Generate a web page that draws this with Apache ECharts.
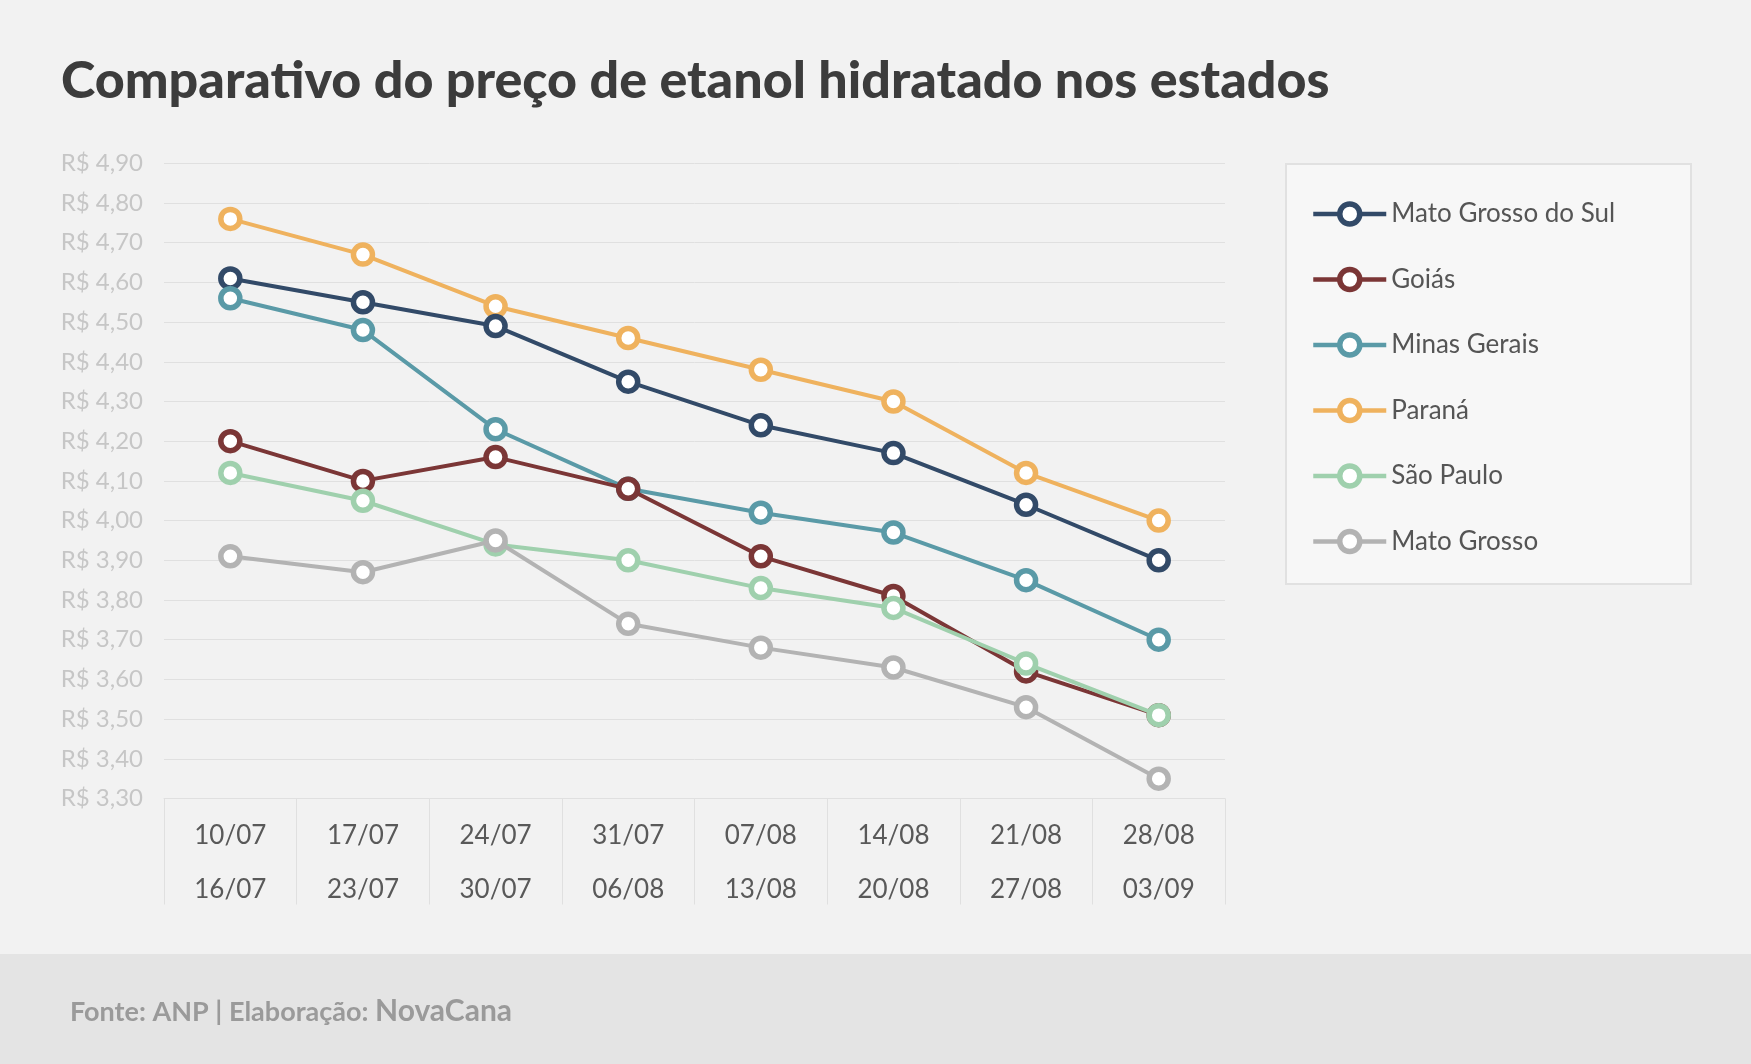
<!DOCTYPE html>
<html>
<head>
<meta charset="utf-8">
<script src="https://cdn.jsdelivr.net/npm/echarts@6/dist/echarts.min.js"></script>
<style>
  html, body { margin: 0; padding: 0; background: #f2f2f2; }
  #echarts-line { width: 1751px; height: 1064px; }
</style>
</head>
<body>
<div id="echarts-line"></div>
<script>
// semanas (início \n fim)
var categories = ['10/07\n16/07', '17/07\n23/07', '24/07\n30/07', '31/07\n06/08',
                  '07/08\n13/08', '14/08\n20/08', '21/08\n27/08', '28/08\n03/09'];

// preço médio do etanol hidratado (R$/litro)
var matoGrossoDoSul = [4.61, 4.55, 4.49, 4.35, 4.24, 4.17, 4.04, 3.90];
var goias           = [4.20, 4.10, 4.16, 4.08, 3.91, 3.81, 3.62, 3.51];
var minasGerais     = [4.56, 4.48, 4.23, 4.08, 4.02, 3.97, 3.85, 3.70];
var parana          = [4.76, 4.67, 4.54, 4.46, 4.38, 4.30, 4.12, 4.00];
var saoPaulo        = [4.12, 4.05, 3.94, 3.90, 3.83, 3.78, 3.64, 3.51];
var matoGrosso      = [3.91, 3.87, 3.95, 3.74, 3.68, 3.63, 3.53, 3.35];

var yMin = 3.3, yMax = 4.9, yStep = 0.1;

function makeSeries(name, data, color, z) {
    return {
        name: name,
        type: 'line',
        data: data,
        z: z,
        symbol: 'circle',
        symbolSize: 19,
        lineStyle: {
            color: color,
            width: 4
        },
        itemStyle: {
            color: '#fff',
            borderColor: color,
            borderWidth: 5.5
        },
        emphasis: { disabled: true }
    };
}

var myChart = echarts.init(document.getElementById('echarts-line'));
var option = {
    backgroundColor: '#f2f2f2',
    animation: false,
    textStyle: {
        fontFamily: 'Lato'
    },
    title: {
        text: 'Comparativo do preço de etanol hidratado nos estados',
        left: 56,
        top: 50,
        textStyle: {
            fontFamily: 'Lato',
            fontWeight: 900,
            fontSize: 52,
            color: '#3c3c3c'
        }
    },
    graphic: [
        {
            type: 'rect',
            shape: { x: 0, y: 954, width: 1751, height: 110 },
            style: { fill: '#e4e4e4' }
        },
        {
            type: 'rect',
            shape: { x: 1286, y: 164, width: 405, height: 420 },
            style: { fill: '#f7f7f7', stroke: '#e1e1e1', lineWidth: 2 }
        },
        {
            type: 'text',
            style: {
                text: 'Fonte: ANP | Elaboração:',
                x: 70,
                y: 1012,
                verticalAlign: 'middle',
                font: 'bold 27px Lato',
                fill: '#9a9a9a'
            }
        },
        {
            type: 'text',
            style: {
                text: 'NovaCana',
                x: 375,
                y: 1011,
                verticalAlign: 'middle',
                font: 'bold 30px Lato',
                fill: '#9a9a9a'
            }
        }
    ],
    legend: {
        orient: 'vertical',
        left: 1306,
        top: 196,
        itemWidth: 73,
        itemHeight: 25,
        itemGap: 39.5,
        textStyle: {
            fontFamily: 'Lato',
            fontSize: 26,
            color: '#555555'
        },
        itemStyle: {
            borderWidth: 5.5
        },
        lineStyle: {
            width: 4.5
        },
        data: ['Mato Grosso do Sul', 'Goiás', 'Minas Gerais', 'Paraná', 'São Paulo', 'Mato Grosso']
    },
    grid: {
        left: 164,
        right: 526,
        top: 163.3,
        bottom: 265.5,
        containLabel: false
    },
    xAxis: {
        type: 'category',
        data: categories,
        boundaryGap: true,
        axisLine: {
            lineStyle: { color: '#e0e0e0', width: 1 }
        },
        axisTick: {
            show: true,
            interval: 0,
            length: 106,
            lineStyle: { color: '#e0e0e0', width: 1 }
        },
        axisLabel: {
            interval: 0,
            margin: 10,
            fontFamily: 'Lato',
            fontSize: 26,
            lineHeight: 54,
            color: '#595959'
        },
        splitLine: { show: false }
    },
    yAxis: {
        type: 'value',
        min: yMin,
        max: yMax,
        interval: yStep,
        axisLine: { show: false },
        axisTick: { show: false },
        axisLabel: {
            margin: 21,
            fontFamily: 'Lato',
            fontSize: 24,
            color: '#c6c6c6',
            formatter: function (v) {
                return 'R$ ' + v.toFixed(2).replace('.', ',');
            }
        },
        splitLine: {
            lineStyle: { color: '#e0e0e0', width: 1 }
        }
    },
    series: [
        makeSeries('Mato Grosso do Sul', matoGrossoDoSul, '#324a68', 3),
        makeSeries('Goiás', goias, '#7b3636', 4),
        makeSeries('Minas Gerais', minasGerais, '#5a9aa7', 3),
        makeSeries('Paraná', parana, '#efb25e', 2),
        makeSeries('São Paulo', saoPaulo, '#9fd0ad', 5),
        makeSeries('Mato Grosso', matoGrosso, '#b3b3b3', 6)
    ]
};
myChart.setOption(option);
</script>
</body>
</html>
